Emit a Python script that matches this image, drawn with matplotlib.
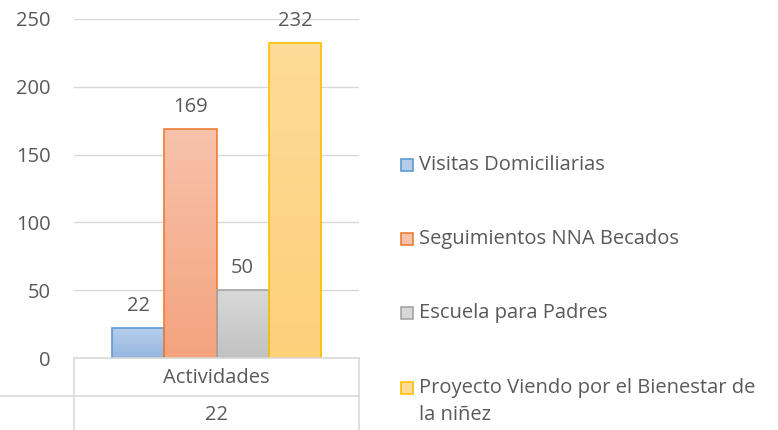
import numpy as np
import matplotlib.pyplot as plt
from matplotlib.colors import LinearSegmentedColormap
from matplotlib.patches import Rectangle
from matplotlib.lines import Line2D

plt.rcParams['font.family'] = ['Open Sans', 'DejaVu Sans']

# datos
categoria = 'Actividades'
fila_tabla = '22'
series = ['Visitas Domiciliarias', 'Seguimientos NNA Becados',
          'Escuela para Padres', 'Proyecto Viendo por el Bienestar de\nla niñez']
valores = [22, 169, 50, 232]

# colores (arriba, abajo, borde)
colores = [('#b5cdeb', '#96b7e0', '#5b9bd5'),
           ('#f7c2ab', '#f4a37e', '#ed7d31'),
           ('#d8d8d8', '#c2c2c2', '#a5a5a5'),
           ('#fedb98', '#fdd07a', '#ffc000')]
gris = '#595959'
linea = '#d9d9d9'
fs = 14.5

fig = plt.figure(figsize=(7.78, 4.30), dpi=100)
W, H = 778, 430
ax = fig.add_axes([74 / W, 1 - 358 / H, 285 / W, 339 / H])

w = 0.1833
for i, (v, (c_top, c_bot, c_edge)) in enumerate(zip(valores, colores)):
    x0 = (i - 2) * w
    cmap = LinearSegmentedColormap.from_list('g%d' % i, [c_bot, c_top])
    grad = np.linspace(0, 1, 100).reshape(-1, 1)
    im = ax.imshow(grad, cmap=cmap, origin='lower', aspect='auto',
                   extent=[x0, x0 + w, 0, v], zorder=2)
    rect = Rectangle((x0, 0), w, v, facecolor='none', edgecolor=c_edge,
                     linewidth=1.2, zorder=3)
    ax.add_patch(rect)
    im.set_clip_path(rect)
    ax.annotate(str(v), (x0 + w / 2, v), xytext=(0, 16), textcoords='offset points',
                ha='center', va='center', fontsize=fs, color=gris)

ax.set_xlim(-0.5, 0.5)
ax.set_ylim(0, 250)
ax.set_yticks([0, 50, 100, 150, 200, 250])
ax.set_xticks([])
ax.grid(axis='y', color=linea, linewidth=1, zorder=0)
ax.set_axisbelow(True)
for s in ['top', 'right', 'left', 'bottom']:
    ax.spines[s].set_visible(False)
ax.tick_params(axis='y', length=0, pad=17, labelsize=fs, labelcolor=gris)

# tabla de categorias bajo el eje
def px(x, y):
    return x / W, 1 - y / H

for (xa, ya), (xb, yb) in [((74, 358), (359, 358)), ((0, 396), (359, 396)),
                           ((74, 358), (74, 430)), ((359, 358), (359, 430))]:
    a, b = px(xa, ya), px(xb, yb)
    fig.add_artist(Line2D([a[0], b[0]], [a[1], b[1]], color=linea, linewidth=1.2))
fig.text(*px(216.5, 378), categoria, ha='center', va='center', fontsize=fs, color=gris)
fig.text(*px(216.5, 415), fila_tabla, ha='center', va='center', fontsize=fs, color=gris)

# leyenda
ys = [165, 239, 313, 388]
for y, s, (c_top, c_bot, c_edge) in zip(ys, series, colores):
    fx, fy = px(401, y + 6)
    fig.add_artist(Rectangle((fx, fy), 12 / W, 12 / H, facecolor=c_top,
                             edgecolor=c_edge, linewidth=1.2,
                             transform=fig.transFigure))
    for k, parte in enumerate(s.split('\n')):
        fig.text(*px(419, y + 27 * k), parte, ha='left', va='center',
                 fontsize=fs, color=gris)

fig.savefig('out.png', dpi=100)
